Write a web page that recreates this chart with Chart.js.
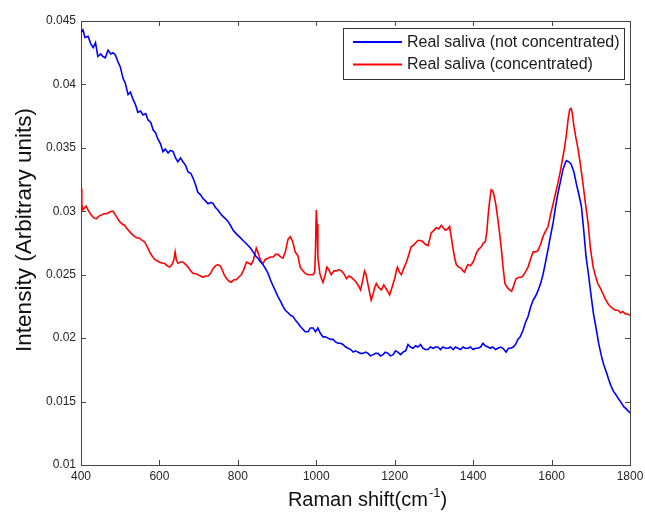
<!DOCTYPE html>
<html>
<head>
<meta charset="utf-8">
<script src="https://cdn.jsdelivr.net/npm/chart.js@4"></script>
<style>
  html, body { margin: 0; padding: 0; background: #fff; }
  #wrap { width: 645px; height: 512px; }
</style>
</head>
<body>
<div id="wrap"><canvas id="ramanChart" width="645" height="512"></canvas></div>
<script>
// Raman spectra of saliva, two preparations
const xTicks = [400, 600, 800, 1000, 1200, 1400, 1600, 1800];
const yTicks = [0.01, 0.015, 0.02, 0.025, 0.03, 0.035, 0.04, 0.045];

const seriesNames = ['Real saliva (not concentrated)', 'Real saliva (concentrated)'];

const shiftPlain = [
  400, 405, 410, 418, 425, 431, 437, 443, 450, 456, 462, 469, 476, 482, 488, 494,
  500, 507, 513, 520, 526, 533, 539, 545, 552, 558, 565, 571, 578, 584, 590, 596,
  603, 609, 615, 622, 628, 635, 641, 647, 654, 660, 667, 673, 680, 686, 692, 698,
  705, 711, 718, 724, 731, 737, 743, 749, 756, 762, 769, 775, 781, 788, 794, 800,
  807, 813, 820, 826, 832, 839, 845, 851, 858, 864, 870, 877, 883, 890, 896, 902,
  909, 915, 921, 928, 934, 941, 947, 953, 960, 966, 972, 979, 985, 992, 998, 1004,
  1010, 1017, 1023, 1030, 1036, 1043, 1049, 1055, 1062, 1068, 1075, 1081, 1088, 1094, 1100, 1106,
  1113, 1119, 1126, 1132, 1138, 1145, 1151, 1157, 1164, 1170, 1176, 1183, 1189, 1196, 1202, 1208,
  1215, 1221, 1228, 1234, 1240, 1247, 1253, 1259, 1266, 1272, 1278, 1285, 1291, 1298, 1304, 1310,
  1317, 1323, 1330, 1336, 1342, 1349, 1355, 1361, 1368, 1374, 1380, 1387, 1393, 1400, 1406, 1412,
  1419, 1425, 1431, 1438, 1444, 1450, 1457, 1463, 1470, 1476, 1484, 1490, 1496, 1502, 1508, 1514,
  1520, 1527, 1533, 1540, 1546, 1553, 1559, 1565, 1572, 1578, 1584, 1591, 1597, 1604, 1610, 1616,
  1623, 1629, 1635, 1638, 1644, 1650, 1657, 1663, 1669, 1676, 1682, 1688, 1695, 1701, 1707, 1714,
  1720, 1727, 1733, 1740, 1746, 1752, 1758, 1765, 1771, 1778, 1784, 1791, 1800
];
const intensityPlain = [
  0.0441, 0.0443, 0.0437, 0.0438, 0.0432, 0.0429, 0.0433, 0.0422, 0.0424, 0.0422, 0.0421, 0.0427, 0.0424, 0.0425, 0.0423, 0.0418,
  0.0414, 0.0405, 0.0401, 0.0392, 0.0394, 0.0388, 0.0384, 0.0378, 0.0379, 0.0376, 0.0377, 0.0372, 0.0370, 0.0364, 0.0362, 0.0357,
  0.0353, 0.0347, 0.0349, 0.0346, 0.0348, 0.0347, 0.0342, 0.0339, 0.0342, 0.0339, 0.0336, 0.0331, 0.0330, 0.0326, 0.0321, 0.0315,
  0.0313, 0.0310, 0.0308, 0.0306, 0.0307, 0.0306, 0.0303, 0.0301, 0.0298, 0.0296, 0.0294, 0.0292, 0.0289, 0.0285, 0.0283, 0.0281,
  0.0279, 0.0277, 0.0275, 0.0273, 0.0271, 0.0268, 0.0265, 0.0263, 0.0260, 0.0258, 0.0255, 0.0251, 0.0246, 0.0241, 0.0237, 0.0233,
  0.0229, 0.0225, 0.0222, 0.0220, 0.0218, 0.0217, 0.0214, 0.0212, 0.0209, 0.0207, 0.0205, 0.0205, 0.0208, 0.0208, 0.0205, 0.0208,
  0.0204, 0.0201, 0.0201, 0.0200, 0.0199, 0.0199, 0.0197, 0.0196, 0.0196, 0.0195, 0.0193, 0.0192, 0.0191, 0.0189, 0.0190, 0.0189,
  0.0188, 0.0188, 0.0189, 0.0188, 0.0186, 0.0187, 0.0188, 0.0188, 0.0186, 0.0187, 0.0189, 0.0188, 0.0186, 0.0187, 0.0190, 0.0189,
  0.0187, 0.0189, 0.0190, 0.0195, 0.0193, 0.0192, 0.0194, 0.0193, 0.0195, 0.0192, 0.0191, 0.0191, 0.0193, 0.0192, 0.0193, 0.0193,
  0.0191, 0.0193, 0.0192, 0.0192, 0.0193, 0.0191, 0.0193, 0.0192, 0.0191, 0.0193, 0.0192, 0.0192, 0.0193, 0.0191, 0.0192, 0.0192,
  0.0193, 0.0196, 0.0194, 0.0193, 0.0192, 0.0193, 0.0191, 0.0192, 0.0193, 0.0192, 0.0189, 0.0192, 0.0192, 0.0193, 0.0195, 0.0199,
  0.0201, 0.0206, 0.0212, 0.0217, 0.0224, 0.0230, 0.0233, 0.0237, 0.0243, 0.0250, 0.0259, 0.0270, 0.0280, 0.0291, 0.0303, 0.0314,
  0.0324, 0.0333, 0.0338, 0.0340, 0.0339, 0.0337, 0.0331, 0.0322, 0.0314, 0.0304, 0.0285, 0.0264, 0.0248, 0.0233, 0.0219, 0.0207,
  0.0196, 0.0186, 0.0179, 0.0173, 0.0167, 0.0162, 0.0158, 0.0155, 0.0152, 0.0149, 0.0146, 0.0144, 0.0141
];

const shiftConc = [
  400, 402, 405, 410, 413, 420, 426, 432, 439, 445, 452, 458, 465, 471, 477, 482,
  486, 492, 498, 505, 511, 518, 524, 530, 537, 543, 549, 556, 562, 569, 575, 581,
  588, 594, 600, 607, 613, 620, 626, 632, 637, 640, 643, 647, 654, 660, 667, 673,
  680, 686, 692, 698, 705, 711, 718, 724, 730, 737, 743, 749, 755, 760, 765, 771,
  777, 783, 790, 796, 802, 809, 815, 822, 828, 834, 840, 847, 851, 855, 860, 864,
  870, 877, 883, 890, 896, 902, 909, 915, 921, 928, 934, 940, 946, 953, 959, 966,
  972, 979, 985, 992, 996, 998, 1000, 1002, 1004, 1009, 1013, 1017, 1022, 1027, 1032, 1038,
  1045, 1051, 1058, 1064, 1070, 1077, 1083, 1089, 1096, 1102, 1108, 1113, 1118, 1123, 1127, 1132,
  1136, 1140, 1145, 1149, 1153, 1159, 1166, 1172, 1176, 1182, 1187, 1193, 1200, 1204, 1207, 1212,
  1217, 1223, 1230, 1236, 1242, 1247, 1253, 1259, 1266, 1272, 1278, 1285, 1290, 1293, 1300, 1306,
  1312, 1319, 1324, 1329, 1335, 1340, 1345, 1349, 1353, 1357, 1363, 1370, 1374, 1378, 1383, 1387,
  1393, 1400, 1404, 1408, 1414, 1421, 1426, 1431, 1435, 1438, 1442, 1446, 1450, 1453, 1458, 1462,
  1467, 1472, 1476, 1481, 1487, 1493, 1498, 1502, 1506, 1510, 1517, 1523, 1527, 1533, 1540, 1546,
  1553, 1559, 1565, 1572, 1578, 1584, 1591, 1597, 1604, 1610, 1616, 1622, 1629, 1634, 1638, 1642,
  1646, 1650, 1653, 1657, 1662, 1667, 1673, 1680, 1686, 1693, 1699, 1706, 1712, 1718, 1725, 1731,
  1737, 1744, 1750, 1757, 1763, 1769, 1776, 1782, 1788, 1794, 1800
];
const intensityConc = [
  0.0318, 0.0305, 0.0301, 0.0303, 0.0304, 0.0300, 0.0297, 0.0295, 0.0294, 0.0296, 0.0297, 0.0298, 0.0298, 0.0299, 0.0300, 0.0300,
  0.0298, 0.0295, 0.0292, 0.0290, 0.0289, 0.0286, 0.0284, 0.0282, 0.0280, 0.0279, 0.0279, 0.0277, 0.0276, 0.0272, 0.0268, 0.0265,
  0.0262, 0.0261, 0.0260, 0.0259, 0.0259, 0.0257, 0.0256, 0.0258, 0.0262, 0.0268, 0.0262, 0.0259, 0.0260, 0.0260, 0.0258, 0.0256,
  0.0253, 0.0251, 0.0251, 0.0250, 0.0249, 0.0248, 0.0249, 0.0249, 0.0251, 0.0255, 0.0257, 0.0258, 0.0257, 0.0254, 0.0250, 0.0247,
  0.0245, 0.0244, 0.0246, 0.0246, 0.0248, 0.0250, 0.0254, 0.0260, 0.0259, 0.0258, 0.0262, 0.0271, 0.0268, 0.0264, 0.0260, 0.0259,
  0.0262, 0.0263, 0.0264, 0.0264, 0.0266, 0.0266, 0.0264, 0.0263, 0.0268, 0.0278, 0.0280, 0.0276, 0.0268, 0.0265, 0.0256, 0.0253,
  0.0251, 0.0250, 0.0250, 0.0250, 0.0252, 0.0270, 0.0301, 0.0290, 0.0264, 0.0251, 0.0247, 0.0244, 0.0249, 0.0256, 0.0254, 0.0250,
  0.0253, 0.0253, 0.0254, 0.0253, 0.0251, 0.0247, 0.0249, 0.0248, 0.0246, 0.0244, 0.0241, 0.0238, 0.0245, 0.0253, 0.0250, 0.0242,
  0.0236, 0.0230, 0.0235, 0.0240, 0.0243, 0.0240, 0.0238, 0.0242, 0.0240, 0.0237, 0.0234, 0.0240, 0.0247, 0.0253, 0.0256, 0.0252,
  0.0250, 0.0255, 0.0260, 0.0266, 0.0272, 0.0273, 0.0275, 0.0277, 0.0277, 0.0276, 0.0274, 0.0273, 0.0279, 0.0283, 0.0285, 0.0287,
  0.0286, 0.0289, 0.0287, 0.0285, 0.0286, 0.0288, 0.0278, 0.0270, 0.0263, 0.0258, 0.0256, 0.0255, 0.0253, 0.0252, 0.0256, 0.0258,
  0.0257, 0.0260, 0.0263, 0.0267, 0.0270, 0.0272, 0.0275, 0.0276, 0.0284, 0.0296, 0.0308, 0.0317, 0.0316, 0.0313, 0.0305, 0.0296,
  0.0284, 0.0270, 0.0257, 0.0243, 0.0240, 0.0238, 0.0237, 0.0240, 0.0244, 0.0247, 0.0248, 0.0248, 0.0249, 0.0252, 0.0256, 0.0262,
  0.0268, 0.0268, 0.0269, 0.0274, 0.0280, 0.0284, 0.0288, 0.0297, 0.0306, 0.0314, 0.0322, 0.0331, 0.0343, 0.0352, 0.0361, 0.0372,
  0.0380, 0.0381, 0.0377, 0.0367, 0.0358, 0.0350, 0.0338, 0.0322, 0.0307, 0.0291, 0.0271, 0.0256, 0.0249, 0.0243, 0.0239, 0.0235,
  0.0231, 0.0227, 0.0225, 0.0223, 0.0222, 0.0222, 0.0220, 0.0221, 0.0219, 0.0219, 0.0218
];

const toPoints = (xs, ys) => xs.map((x, i) => ({ x: x, y: ys[i] }));

const FONT = '"Liberation Sans", Arial, sans-serif';
const AXIS_COLOR = '#444';
const TEXT_COLOR = '#262626';

// MATLAB-style box: top/right border plus inward tick marks on all four sides
const boxPlugin = {
  id: 'boxTicks',
  afterDraw(chart) {
    const { ctx, chartArea: a, scales } = chart;
    const len = 5;
    ctx.save();
    ctx.strokeStyle = AXIS_COLOR;
    ctx.lineWidth = 1;
    ctx.beginPath();
    ctx.moveTo(a.left, a.top + 0.5);
    ctx.lineTo(a.right + 0.5, a.top + 0.5);
    ctx.lineTo(a.right + 0.5, a.bottom);
    xTicks.forEach(v => {
      const px = Math.round(scales.x.getPixelForValue(v)) + 0.5;
      ctx.moveTo(px, a.bottom); ctx.lineTo(px, a.bottom - len);
      ctx.moveTo(px, a.top); ctx.lineTo(px, a.top + len);
    });
    yTicks.forEach(v => {
      const py = Math.round(scales.y.getPixelForValue(v)) + 0.5;
      ctx.moveTo(a.left, py); ctx.lineTo(a.left + len, py);
      ctx.moveTo(a.right, py); ctx.lineTo(a.right - len, py);
    });
    ctx.stroke();
    ctx.restore();
  }
};

// axis titles, with a raised "-1" on the x title
const titlePlugin = {
  id: 'axisTitles',
  afterDraw(chart) {
    const { ctx } = chart;
    ctx.save();
    ctx.fillStyle = '#111';
    ctx.textBaseline = 'alphabetic';
    ctx.font = '20px ' + FONT;
    const main = 'Raman shift(cm';
    const sup = '-1';
    const wMain = ctx.measureText(main).width;
    const wClose = ctx.measureText(')').width;
    ctx.font = '13px ' + FONT;
    const wSup = ctx.measureText(sup).width;
    let x = 367 - (wMain + wSup + wClose) / 2;
    const base = 506;
    ctx.font = '20px ' + FONT;
    ctx.textAlign = 'left';
    ctx.fillText(main, x, base);
    x += wMain;
    ctx.font = '13px ' + FONT;
    ctx.fillText(sup, x + 1, base - 9.5);
    x += wSup + 1;
    ctx.font = '20px ' + FONT;
    ctx.fillText(')', x, base);

    ctx.translate(31, 230);
    ctx.rotate(-Math.PI / 2);
    ctx.textAlign = 'center';
    ctx.font = '22.5px ' + FONT;
    ctx.fillText('Intensity (Arbitrary units)', 0, 0);
    ctx.restore();
  }
};

// boxed legend in the top right corner of the plot
const legendPlugin = {
  id: 'boxLegend',
  afterDraw(chart) {
    const { ctx } = chart;
    const box = { x: 343, y: 28, w: 281, h: 51 };
    ctx.save();
    ctx.fillStyle = '#fff';
    ctx.fillRect(box.x, box.y, box.w, box.h);
    ctx.strokeStyle = '#333';
    ctx.lineWidth = 1;
    ctx.strokeRect(box.x + 0.5, box.y + 0.5, box.w, box.h);
    ctx.font = '16px ' + FONT;
    ctx.textBaseline = 'middle';
    ctx.textAlign = 'left';
    chart.data.datasets.forEach((ds, i) => {
      const y = 42 + i * 22.5;
      ctx.strokeStyle = ds.borderColor;
      ctx.lineWidth = 2;
      ctx.beginPath();
      ctx.moveTo(353, y);
      ctx.lineTo(402, y);
      ctx.stroke();
      ctx.fillStyle = '#1a1a1a';
      ctx.fillText(ds.label, 407, y + 0.5);
    });
    ctx.restore();
  }
};

new Chart(document.getElementById('ramanChart'), {
  type: 'line',
  data: {
    datasets: [
      {
        label: seriesNames[0],
        data: toPoints(shiftPlain, intensityPlain),
        borderColor: '#0000ff',
        borderWidth: 1.6,
        pointRadius: 0,
        tension: 0,
        fill: false
      },
      {
        label: seriesNames[1],
        data: toPoints(shiftConc, intensityConc),
        borderColor: '#ff0000',
        borderWidth: 1.6,
        pointRadius: 0,
        tension: 0,
        fill: false
      }
    ]
  },
  options: {
    responsive: false,
    animation: false,
    layout: { padding: { top: 21, right: 15, left: 0, bottom: 0 } },
    plugins: {
      legend: { display: false },
      tooltip: { enabled: false }
    },
    scales: {
      x: {
        type: 'linear',
        min: 400,
        max: 1800,
        afterBuildTicks: s => { s.ticks = xTicks.map(v => ({ value: v })); },
        afterFit: s => {
          s.height = 47;
          // end labels may overhang; keep the plot box where it belongs
          s.paddingLeft = 0;
          s.paddingRight = 0;
        },
        ticks: {
          callback: v => String(v),
          font: { family: FONT, size: 12 },
          color: TEXT_COLOR,
          padding: 4,
          maxRotation: 0,
          autoSkip: false
        },
        grid: { display: false, drawTicks: false },
        border: { display: true, color: AXIS_COLOR, width: 1 }
      },
      y: {
        min: 0.01,
        max: 0.045,
        afterBuildTicks: s => { s.ticks = yTicks.map(v => ({ value: v })); },
        afterFit: s => { s.width = 81; },
        ticks: {
          callback: v => String(v),
          font: { family: FONT, size: 12 },
          color: TEXT_COLOR,
          padding: 5,
          autoSkip: false
        },
        grid: { display: false, drawTicks: false },
        border: { display: true, color: AXIS_COLOR, width: 1 }
      }
    }
  },
  plugins: [boxPlugin, titlePlugin, legendPlugin]
});
</script>
</body>
</html>
